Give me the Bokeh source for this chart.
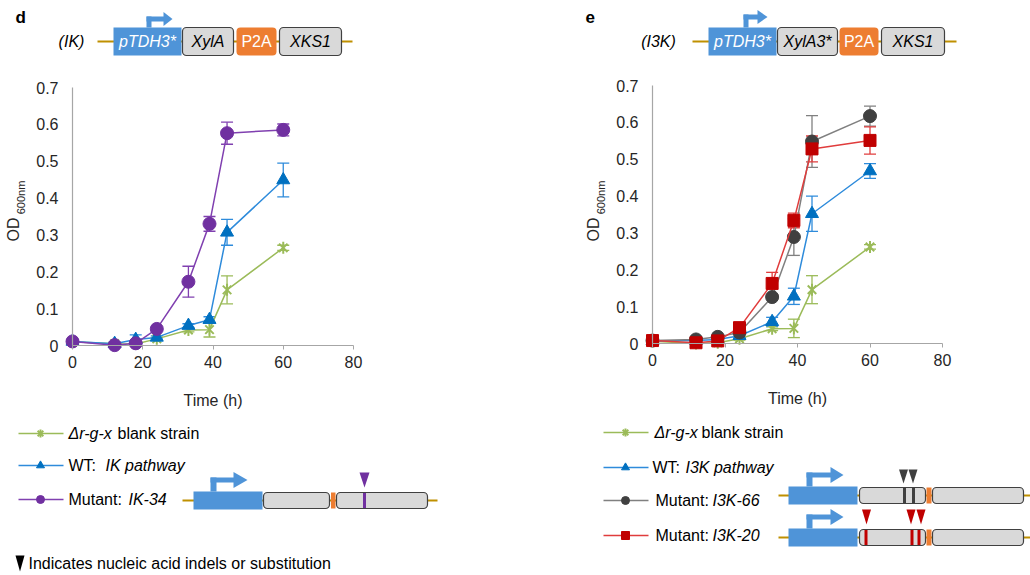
import math
from bokeh.plotting import figure
from bokeh.models import Range1d, FixedTicker, Whisker, TeeHead, ColumnDataSource, LinearAxis
from bokeh.core.properties import value
from bokeh.embed import file_html
from bokeh.resources import INLINE

# ---------------- data ----------------
time_h = [0, 12, 18, 24, 33, 39, 44, 60]
x_ticks = [0, 20, 40, 60, 80]
y_ticks = [0, 0.1, 0.2, 0.3, 0.4, 0.5, 0.6, 0.7]

# panel d (IK)
d_blank = [0.010, 0.005, 0.004, 0.018, 0.042, 0.043, 0.151, 0.265]
d_blank_err = [0.004, 0.004, 0.004, 0.004, 0.005, 0.020, 0.038, 0.007]
d_wt = [0.011, 0.005, 0.016, 0.022, 0.054, 0.070, 0.307, 0.449]
d_wt_err = [0.004, 0.004, 0.013, 0.004, 0.005, 0.008, 0.035, 0.046]
d_ik34 = [0.011, 0.001, 0.006, 0.045, 0.173, 0.330, 0.576, 0.585]
d_ik34_err = [0.004, 0.003, 0.004, 0.005, 0.042, 0.020, 0.030, 0.016]

# panel e (I3K)
e_blank = [0.006, 0.000, 0.002, 0.013, 0.040, 0.041, 0.146, 0.262]
e_blank_err = [0.003, 0.003, 0.003, 0.004, 0.005, 0.025, 0.038, 0.006]
e_wt = [0.007, 0.008, 0.011, 0.021, 0.059, 0.128, 0.352, 0.468]
e_wt_err = [0.003, 0.003, 0.003, 0.004, 0.012, 0.022, 0.048, 0.020]
e_i3k66 = [0.008, 0.011, 0.018, 0.030, 0.126, 0.289, 0.548, 0.617]
e_i3k66_err = [0.003, 0.003, 0.004, 0.004, 0.006, 0.050, 0.070, 0.027]
e_i3k20 = [0.008, 0.002, 0.007, 0.043, 0.163, 0.334, 0.528, 0.551]
e_i3k20_err = [0.003, 0.003, 0.004, 0.006, 0.030, 0.020, 0.035, 0.037]

FONT = "Liberation Sans"
TXT = "#262626"
AXIS = "#A6A6A6"
W, H = 1030, 575

STY = {
    "blank": dict(line="#9BBB59", mark="#9BBB59", marker="asterisk"),
    "wt": dict(line="#2E8BDB", mark="#0070C0", marker="triangle"),
    "ik34": dict(line="#8040B0", mark="#7030A0", marker="circle"),
    "i3k66": dict(line="#808080", mark="#404040", marker="circle"),
    "i3k20": dict(line="#E03C3C", mark="#C00000", marker="square"),
}

# whole page as one canvas: default ranges are page pixels (y downwards)
p = figure(width=W, height=H, x_range=Range1d(0, W), y_range=Range1d(H, 0),
           output_backend="svg", toolbar_location=None, tools="", min_border=0,
           x_axis_location=None, y_axis_location=None, outline_line_color=None,
           background_fill_color="white", border_fill_color="white")
p.grid.visible = False


def chart_ranges(name, x0_px, px_per_h, y0_px, px_per_od):
    # pixel placement of each chart's plotting area on the page
    p.extra_x_ranges[name + "x"] = Range1d(-x0_px / px_per_h, (W - x0_px) / px_per_h)
    p.extra_y_ranges[name + "y"] = Range1d((y0_px - H) / px_per_od, y0_px / px_per_od)


chart_ranges("d", 72, 281 / 80, 345, 258 / 0.7)
chart_ranges("e", 652, 290 / 80, 343, 258 / 0.7)


def draw_marker(xs, ys, key, size, **kw):
    s = STY[key]
    if s["marker"] == "asterisk":
        p.scatter(xs, ys, marker="x", size=size, line_color=s["mark"], line_width=2, **kw)
        p.scatter(xs, ys, marker="dash", angle=math.pi / 2, size=size, line_color=s["mark"], line_width=2, **kw)
    else:
        p.scatter(xs, ys, marker=s["marker"], size=size, fill_color=s["mark"], line_color=s["mark"], **kw)


def txt(x, y, s, size="16px", style="normal", color="#000000", align="left", angle=0):
    p.text(x=[x], y=[y], text=[s], text_font=value(FONT), text_font_size=value(size),
           text_font_style=style, text_color=color, text_align=align, text_baseline="middle",
           angle=angle)


def make_chart(name, series):
    rn = dict(x_range_name=name + "x", y_range_name=name + "y")
    xa = LinearAxis(fixed_location=0, bounds=(0, 80), ticker=FixedTicker(ticks=x_ticks), **rn)
    ya = LinearAxis(fixed_location=0, bounds=(0, 0.7), ticker=FixedTicker(ticks=y_ticks), **rn)
    ya.major_label_overrides = {0: "0"}
    for ax in (xa, ya):
        ax.axis_line_color = AXIS
        ax.axis_line_width = 1.2
        ax.major_tick_line_color = AXIS
        ax.minor_tick_line_color = None
        ax.major_label_text_font = FONT
        ax.major_label_text_font_size = "16px"
        ax.major_label_text_color = TXT
    xa.major_tick_out = 4
    xa.major_tick_in = 0
    xa.major_label_standoff = 6
    ya.major_tick_out = 0
    ya.major_tick_in = 0
    ya.major_label_standoff = 14
    xa.axis_label = "Time (h)"
    xa.axis_label_text_font = FONT
    xa.axis_label_text_font_size = "16px"
    xa.axis_label_text_font_style = "normal"
    xa.axis_label_text_color = TXT
    xa.axis_label_standoff = 21
    p.add_layout(xa, "below")
    p.add_layout(ya, "left")

    for ys, errs, key, size in series:
        s = STY[key]
        src = ColumnDataSource(dict(x=time_h,
                                    lower=[a - b for a, b in zip(ys, errs)],
                                    upper=[a + b for a, b in zip(ys, errs)]))
        p.add_layout(Whisker(source=src, base="x", lower="lower", upper="upper",
                             line_color=s["line"], line_width=1.3,
                             upper_head=TeeHead(size=12, line_color=s["line"], line_width=1.3),
                             lower_head=TeeHead(size=12, line_color=s["line"], line_width=1.3), **rn))
        p.line(time_h, ys, line_color=s["line"], line_width=1.5, **rn)
        draw_marker(time_h, ys, key, size, **rn)


PROM = "#4F94D8"
GRAY = "#D9D9D9"
GRAYL = "#404040"
ORANGE = "#ED7D31"
BROWN = "#BF9000"


def arrow(sx, base_y, top_y, stem_w, bar_h, tip_x, head_len, head_half):
    p.quad(left=[sx], right=[sx + stem_w], top=[top_y], bottom=[base_y], fill_color=PROM, line_color=None)
    p.quad(left=[sx], right=[tip_x - head_len + 0.5], top=[top_y], bottom=[top_y + bar_h],
           fill_color=PROM, line_color=None)
    cy = top_y + bar_h / 2
    p.patch([tip_x - head_len, tip_x, tip_x - head_len], [cy - head_half, cy, cy + head_half],
            fill_color=PROM, line_color=None)


def gbox(l, r, t, b, rad=4):
    p.quad(left=[l], right=[r], top=[t], bottom=[b], fill_color=GRAY, line_color=GRAYL,
           line_width=1.2, border_radius=rad)


def tri_down(cx, top, bottom, half, color):
    p.patch([cx - half, cx + half, cx], [top, top, bottom], fill_color=color, line_color=None)


# ---------------- top constructs ----------------
txt(15, 17, "d", size="17px", style="bold")
txt(71, 41, "(IK)", style="italic", align="center")
p.line([97, 352], [41, 41], line_color=BROWN, line_width=2)
p.quad(left=[113], right=[181], top=[27], bottom=[55], fill_color=PROM, line_color=None)
arrow(146, 27, 16, 5, 5, 172, 9, 7)
txt(147, 41, "pTDH3*", style="italic", color="white", align="center")
gbox(182, 233, 27, 55)
txt(207.5, 41, "XylA", style="italic", align="center")
p.quad(left=[236], right=[276], top=[27], bottom=[55], fill_color=ORANGE, line_color=None, border_radius=4)
txt(256, 41, "P2A", color="white", align="center")
gbox(279, 341, 27, 55)
txt(310, 41, "XKS1", style="italic", align="center")

txt(585, 16, "e", size="17px", style="bold")
txt(658, 41, "(I3K)", style="italic", align="center")
p.line([692, 956], [41, 41], line_color=BROWN, line_width=2)
p.quad(left=[708], right=[776], top=[27], bottom=[55], fill_color=PROM, line_color=None)
arrow(743, 27, 14, 5, 5, 767, 10, 7)
txt(742, 41, "pTDH3*", style="italic", color="white", align="center")
gbox(777, 837, 27, 55)
txt(807, 41, "XylA3*", style="italic", align="center")
p.quad(left=[839], right=[878], top=[27], bottom=[55], fill_color=ORANGE, line_color=None, border_radius=4)
txt(858.5, 41, "P2A", color="white", align="center")
gbox(881, 944, 27, 55)
txt(912.5, 41, "XKS1", style="italic", align="center")

# ---------------- charts ----------------
make_chart("d", [(d_blank, d_blank_err, "blank", 12),
                 (d_wt, d_wt_err, "wt", 13),
                 (d_ik34, d_ik34_err, "ik34", 13)])
make_chart("e", [(e_blank, e_blank_err, "blank", 12),
                 (e_wt, e_wt_err, "wt", 13),
                 (e_i3k66, e_i3k66_err, "i3k66", 13),
                 (e_i3k20, e_i3k20_err, "i3k20", 12)])

for ox in (0, 580):
    txt(13 + ox, 229, "OD", size="16px", color=TXT, align="center", angle=math.pi / 2)
    txt(20 + ox, 197, "600nm", size="11px", color=TXT, align="center", angle=math.pi / 2)

# ---------------- legends / mutant constructs ----------------
legend_l = [("blank", 433, [("Δr-g-x", 68, "italic"), ("blank strain", 117, "normal")]),
            ("wt", 465, [("WT:", 68, "normal"), ("IK pathway", 105, "italic")]),
            ("ik34", 499, [("Mutant:", 68, "normal"), ("IK-34", 128, "italic")])]
for key, yy, parts in legend_l:
    p.line([18, 63], [yy, yy], line_color=STY[key]["line"], line_width=1.5)
    draw_marker([40], [yy], key, 8)
    for s, xx, st in parts:
        txt(xx, yy, s, style=st)

p.line([182, 437], [500, 500], line_color=BROWN, line_width=2)
p.quad(left=[193], right=[262], top=[491], bottom=[509], fill_color=PROM, line_color=None)
arrow(210, 491, 477, 6, 5, 247, 14, 8)
gbox(263, 329, 492, 508)
p.quad(left=[330.5], right=[335], top=[492], bottom=[508], fill_color=ORANGE, line_color=None)
gbox(336, 427, 492, 508)
p.quad(left=[362.5], right=[365.5], top=[492.5], bottom=[507.5], fill_color="#7030A0", line_color=None)
tri_down(364, 472, 487, 5, "#7030A0")

tri_down(19.5, 555, 571, 4.5, "#000000")
txt(28, 563, "Indicates nucleic acid indels or substitution")

legend_r = [("blank", 432, [("Δr-g-x", 654, "italic"), ("blank strain", 701, "normal")]),
            ("wt", 467, [("WT:", 652, "normal"), ("I3K pathway", 685, "italic")]),
            ("i3k66", 500, [("Mutant:", 655, "normal"), ("I3K-66", 712, "italic")]),
            ("i3k20", 535, [("Mutant:", 655, "normal"), ("I3K-20", 712, "italic")])]
for key, yy, parts in legend_r:
    p.line([603, 648], [yy, yy], line_color=STY[key]["line"], line_width=1.5)
    draw_marker([625], [yy], key, 8)
    for s, xx, st in parts:
        txt(xx, yy, s, size="16px", style=st)

for cy, marks, mcol in [(495, [904, 913], "#404040"), (537, [865.5, 911.5, 918.5], "#C00000")]:
    p.line([778, 1030], [cy, cy], line_color=BROWN, line_width=2)
    p.quad(left=[788], right=[857], top=[cy - 9], bottom=[cy + 9], fill_color=PROM, line_color=None)
    arrow(806, cy - 9, cy - 23, 6, 5, 843, 13, 8)
    gbox(859, 925, cy - 8, cy + 8)
    p.quad(left=[926], right=[931], top=[cy - 8], bottom=[cy + 8], fill_color=ORANGE, line_color=None)
    gbox(932, 1023, cy - 8, cy + 8)
    for mx in marks:
        p.quad(left=[mx - 1.5], right=[mx + 1.5], top=[cy - 7.5], bottom=[cy + 7.5],
               fill_color=mcol, line_color=None)

for mx in [903, 912.5]:
    tri_down(mx, 469, 483, 4.5, "#404040")
for mx in [866, 910.5, 920.5]:
    tri_down(mx, 509, 524, 4.5, "#C00000")

open("out.html", "w").write(file_html(p, INLINE))
